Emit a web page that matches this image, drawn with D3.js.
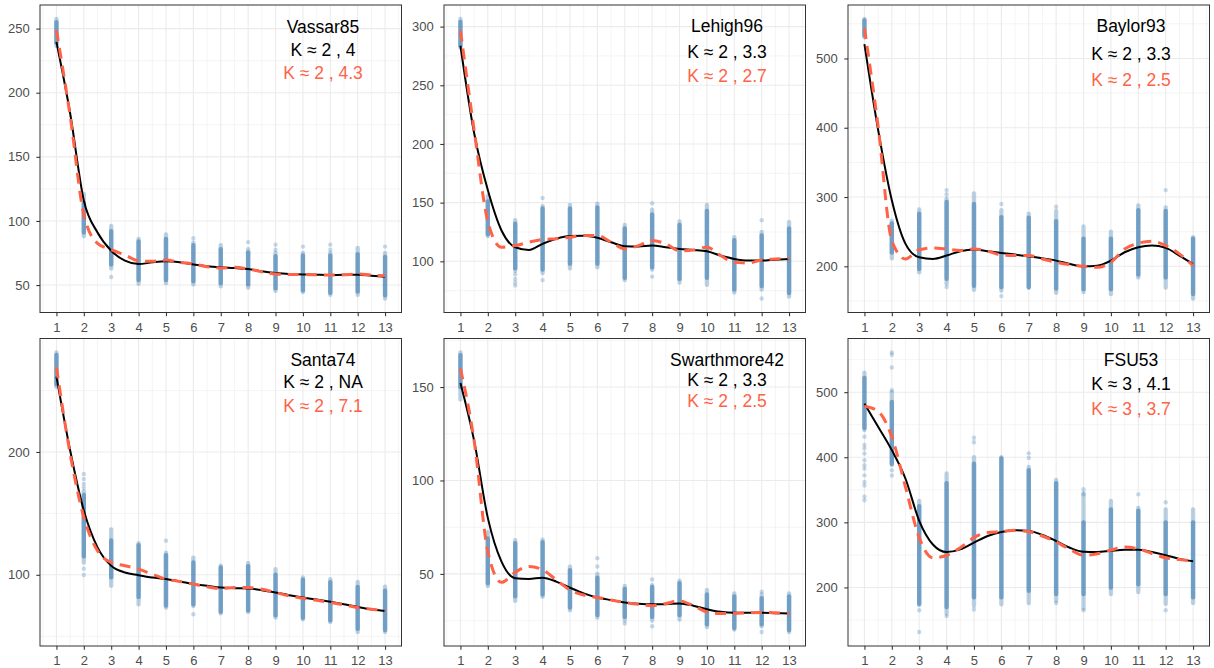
<!DOCTYPE html>
<html>
<head>
<meta charset="utf-8">
<script src="https://cdn.jsdelivr.net/npm/d3@7"></script>
<style>
  body { margin: 0; background: #fff; }
  text { font-family: "Liberation Sans", Arial, Helvetica, sans-serif; }
</style>
</head>
<body>
<svg id="chart" width="1214" height="668"></svg>
<script>
// ---- data ----
const schools = ['Vassar85', 'Lehigh96', 'Baylor93', 'Santa74', 'Swarthmore42', 'FSU53'];
const kBlack = ['K \u2248 2 , 4', 'K \u2248 2 , 3.3', 'K \u2248 2 , 3.3', 'K \u2248 2 , NA', 'K \u2248 2 , 3.3', 'K \u2248 3 , 4.1'];
const kRed = ['K \u2248 2 , 4.3', 'K \u2248 2 , 2.7', 'K \u2248 2 , 2.5', 'K \u2248 2 , 7.1', 'K \u2248 2 , 2.5', 'K \u2248 3 , 3.7'];

const xTicks = [1, 2, 3, 4, 5, 6, 7, 8, 9, 10, 11, 12, 13];
const yTicks = [
  [50, 100, 150, 200, 250],
  [100, 150, 200, 250, 300],
  [200, 300, 400, 500],
  [100, 200],
  [50, 100, 150],
  [200, 300, 400, 500]
];

// range of the observations in each column (outer), and the dense part (core)
const outerLo = [
  [236.5, 88, 63, 51, 51.5, 50.5, 49, 48, 45.5, 44.5, 42.5, 42.5, 39.5],
  [282, 121.5, 92, 90, 94, 95, 84, 93, 82, 80, 73.5, 76, 70],
  [530.5, 211.5, 191.5, 175, 166, 165, 169, 162, 163, 160, 184, 169.5, 153.5],
  [253, 110, 91, 76, 73.4, 74.5, 68.7, 69.8, 65.2, 63.8, 61.6, 53.4, 53.4],
  [143.4, 43.5, 35.6, 37.8, 30.6, 26.7, 25, 25, 25.6, 21.6, 20.2, 22, 18.9],
  [442, 388, 173, 160, 172, 174, 176, 180, 168, 190, 193, 175, 176]
];
const outerHi = [
  [257.5, 121, 96, 86, 89.5, 83, 81, 78, 75, 75, 75, 79, 75],
  [306.5, 156, 135, 147, 148, 149, 131, 144, 134, 148, 120.5, 125, 133.5],
  [557, 266, 282, 298, 305, 281, 276, 280, 257.5, 250, 288, 285, 242],
  [281, 168, 137, 125.8, 118, 114, 107.3, 109.6, 104.6, 97.8, 96.4, 94.2, 90.4],
  [168.5, 72.3, 68, 68.3, 53.9, 50, 43.5, 44, 46.4, 41.4, 39.6, 39, 39.6],
  [530, 500, 333, 375, 400, 400, 385, 365, 345, 333, 322, 320, 320]
];
const coreLo = [
  [239, 91, 66, 54, 54, 53, 51.5, 50.5, 47.5, 46, 44, 45, 42],
  [284, 123, 94, 93, 98, 98, 86, 95, 85, 86, 76, 79, 73],
  [533, 220, 196, 182, 172, 170, 170, 168, 167, 167, 188, 184, 160],
  [255, 115, 98, 82, 75, 76, 70, 71, 67, 65, 63, 56, 55],
  [150, 45, 38, 39, 32, 28, 27, 27, 28, 23, 21, 23, 20],
  [445, 390, 175, 170, 185, 185, 195, 190, 190, 200, 205, 190, 185]
];
const coreHi = [
  [255, 114, 92, 84, 86, 81, 78, 75.5, 72.5, 73, 73, 74, 72],
  [304, 151, 132, 145, 145, 146, 128, 140, 131, 143, 118, 122, 128],
  [555, 262, 276, 293, 290, 271, 270, 265, 240, 240, 281, 280, 240],
  [279, 165, 128, 124, 116, 110, 106, 107, 100, 96, 94, 90, 87],
  [167, 69, 66.5, 67, 52, 48, 42, 43, 45, 39, 38, 37, 38],
  [522, 485, 325, 360, 390, 398, 380, 360, 300, 320, 318, 300, 300]
];
// isolated observations [x, y]
const extraPoints = [
  [[3, 56.3], [6, 86.5], [8, 83.5], [9, 77.5], [9, 81.5], [10, 80], [11, 77.5], [11, 81.5], [13, 80]],
  [[3, 89], [3, 85], [3, 82], [3, 79.5], [4, 154], [4, 84], [8, 149.5], [8, 87], [12, 135], [12, 68.3]],
  [[4, 310], [4, 304], [4, 170], [6, 290], [6, 157], [8, 286], [12, 310]],
  [[2, 182], [2, 178], [2, 174], [2, 171], [2, 105], [2, 99.8], [5, 127.8], [6, 67.9]],
  [[6, 58.4], [6, 54], [7, 23.4], [8, 47], [8, 22], [12, 40.5], [12, 18.9]],
  [[1, 431.7], [1, 418.8], [1, 413.6], [1, 405.8], [1, 395.5], [1, 387.7], [1, 382.5], [1, 372.2],
   [1, 361.9], [1, 356.7], [1, 339.6], [1, 334], [2, 561], [2, 557.5], [2, 538], [2, 503], [2, 380], [2, 372],
   [3, 131.5], [3, 165], [4, 156], [5, 430], [5, 423], [5, 166], [7, 406], [7, 399], [8, 176],
   [9, 351], [9, 343], [9, 165], [11, 343], [12, 331], [12, 165]]
];

// smooth fits sampled every half step
const fitX = [1, 1.5, 2, 2.5, 3, 3.5, 4, 4.5, 5, 5.5, 6, 6.5, 7, 7.5, 8, 8.5, 9, 9.5, 10, 10.5, 11, 11.5, 12, 12.5, 13];
const blackFit = [
  [239.6, 184, 116, 91, 76.8, 69, 66.4, 67.7, 68.5, 67.7, 66, 64.6, 63.8, 63.3, 62.5, 60.7, 59.4, 58.6, 58.3, 58, 57.8, 58, 58, 57.3, 56.5],
  [283.7, 209.3, 160.7, 126.3, 112, 109.7, 114.9, 119.2, 121.5, 121.7, 120, 116.3, 112.9, 112.6, 113.4, 112, 110.6, 109.7, 108.6, 104.9, 102, 100.6, 100.6, 101.4, 102],
  [520.8, 397, 295.4, 232.4, 213, 210.6, 215.5, 221.8, 224.2, 221.8, 219.3, 216.9, 214.5, 211.6, 208.2, 203.3, 200, 200.9, 208.2, 220.3, 227.6, 230, 226.6, 215.5, 203.3],
  [261.3, 201.4, 152.3, 122.3, 107.4, 101.9, 99.7, 97.8, 96.5, 94.6, 92.4, 91, 89.6, 89.1, 88.8, 87.5, 85.6, 83.4, 81.5, 79.8, 78, 76, 73.8, 71.9, 70.6],
  [152.2, 121.3, 80, 56.6, 47.7, 47.3, 48, 45.9, 42.6, 39.6, 37.4, 36, 34.7, 34, 33.7, 33.8, 34.2, 33, 31.1, 29.7, 29.2, 29.2, 29.2, 29, 28.8],
  [482.4, 447, 411, 367, 302.4, 266, 254.3, 258.4, 268.8, 279, 285.3, 287.9, 286.9, 280.6, 271.3, 261, 254.8, 254.3, 256.3, 257.9, 257.9, 254.3, 249.6, 243.9, 240.3]
];
const redFit = [
  [248.7, 182, 105, 82.5, 77.6, 73.4, 69, 68.5, 69.5, 67.7, 66.4, 64.3, 63.3, 63.8, 62.5, 60.4, 58.6, 58.3, 58.3, 58, 57.8, 58, 58.6, 57.8, 57.3],
  [296.6, 212, 134, 112, 113.4, 116.3, 118.6, 119.2, 120.6, 122, 122, 116.3, 110.6, 113.4, 117.7, 114.9, 109, 109.7, 112, 105, 99.1, 98.6, 101.1, 102, 102.6],
  [543.6, 402, 237, 210.6, 223.7, 226.6, 225, 222.7, 225, 221.8, 216.4, 215.5, 215.5, 210.6, 205.8, 202.4, 200, 198.5, 205.8, 225, 233.4, 236.3, 230, 217.9, 201],
  [269, 198.6, 146.9, 119.6, 110, 107.4, 104.6, 100.5, 96.5, 94.6, 92.4, 90.2, 88.8, 89.6, 89.6, 88.2, 85.6, 82.8, 80.9, 79.3, 77.4, 75.5, 73.3, 71.9, 70.6],
  [159.9, 121.3, 62, 45.5, 50.9, 54, 52.2, 46.8, 41.4, 38.7, 37.4, 36, 34.7, 33.7, 33, 34.2, 35.5, 33, 29.7, 28.8, 28.8, 29.2, 29.4, 29.2, 28.8],
  [478.3, 470.5, 431.7, 354, 276.5, 245.5, 249.1, 261, 276.5, 284.3, 285.8, 287.9, 285.8, 279, 269.8, 258.4, 249.6, 251.7, 257.4, 262, 259.4, 252.2, 245.5, 243, 240.3]
];

// ---- layout ----
const panelLeft = [40, 444, 848];
const panelTop = [5, 338.5];
const panelW = 361.5;
const panelH = 307.5;
const labelDy = [[21.7, 44.3, 67.7], [21, 46.7, 71], [21, 48.3, 75], [21.5, 43.2, 67.5], [20.8, 41.5, 62.5], [21.5, 44.8, 70.5]];
const labelDx = 283;
const pointR = 2.2;
const pointColor = '#4682B4';
const gridColor = '#EBEBEB';

const svg = d3.select('#chart');

schools.forEach((school, p) => {
    const left = panelLeft[p % 3];
    const top = panelTop[Math.floor(p / 3)];

    const allY = [].concat(outerLo[p], outerHi[p], extraPoints[p].map(d => d[1]), blackFit[p], redFit[p]);
    const [yMin, yMax] = d3.extent(allY);
    const pad = (yMax - yMin) * 0.05;

    const x = d3.scaleLinear().domain([0.4, 13.6]).range([left, left + panelW]);
    const y = d3.scaleLinear().domain([yMin - pad, yMax + pad]).range([top + panelH, top]);

    const g = svg.append('g');

    // background grid
    const step = yTicks[p][1] - yTicks[p][0];
    const yMinor = [yTicks[p][0] - step / 2].concat(yTicks[p].map(t => t + step / 2))
        .filter(v => v > y.domain()[0] && v < y.domain()[1]);
    const xMinor = xTicks.map(t => t - 0.5).concat([13.5]);

    g.selectAll('.xminor').data(xMinor).join('line')
        .attr('x1', d => x(d)).attr('x2', d => x(d))
        .attr('y1', top).attr('y2', top + panelH)
        .attr('stroke', gridColor).attr('stroke-width', 0.55);
    g.selectAll('.yminor').data(yMinor).join('line')
        .attr('y1', d => y(d)).attr('y2', d => y(d))
        .attr('x1', left).attr('x2', left + panelW)
        .attr('stroke', gridColor).attr('stroke-width', 0.55);
    g.append('g').selectAll('line').data(xTicks).join('line')
        .attr('x1', d => x(d)).attr('x2', d => x(d))
        .attr('y1', top).attr('y2', top + panelH)
        .attr('stroke', gridColor).attr('stroke-width', 1.1);
    g.append('g').selectAll('line').data(yTicks[p]).join('line')
        .attr('y1', d => y(d)).attr('y2', d => y(d))
        .attr('x1', left).attr('x2', left + panelW)
        .attr('stroke', gridColor).attr('stroke-width', 1.1);

    // observations: full spread, dense part, isolated points
    g.append('g').selectAll('line').data(xTicks).join('line')
        .attr('x1', d => x(d)).attr('x2', d => x(d))
        .attr('y1', (d, i) => y(outerLo[p][i])).attr('y2', (d, i) => y(outerHi[p][i]))
        .attr('stroke', pointColor).attr('stroke-width', pointR * 2)
        .attr('stroke-linecap', 'round').attr('opacity', 0.35);
    g.append('g').selectAll('line').data(xTicks).join('line')
        .attr('x1', d => x(d)).attr('x2', d => x(d))
        .attr('y1', (d, i) => y(coreLo[p][i])).attr('y2', (d, i) => y(coreHi[p][i]))
        .attr('stroke', pointColor).attr('stroke-width', pointR * 2)
        .attr('stroke-linecap', 'round').attr('opacity', 0.62);
    g.append('g').selectAll('circle').data(extraPoints[p]).join('circle')
        .attr('cx', d => x(d[0])).attr('cy', d => y(d[1]))
        .attr('r', pointR)
        .attr('fill', pointColor).attr('opacity', 0.3);

    // smooth fits
    const line = d3.line().x(d => x(d[0])).y(d => y(d[1])).curve(d3.curveMonotoneX);
    g.append('path')
        .attr('d', line(fitX.map((v, i) => [v, blackFit[p][i]])))
        .attr('fill', 'none').attr('stroke', '#000').attr('stroke-width', 2);
    g.append('path')
        .attr('d', line(fitX.map((v, i) => [v, redFit[p][i]])))
        .attr('fill', 'none').attr('stroke', 'tomato').attr('stroke-width', 3)
        .attr('stroke-dasharray', '11,7');

    // panel border
    g.append('rect')
        .attr('x', left).attr('y', top)
        .attr('width', panelW).attr('height', panelH)
        .attr('fill', 'none').attr('stroke', '#333').attr('stroke-width', 1);

    // axes
    const xAxis = g.append('g')
        .attr('transform', `translate(0, ${top + panelH})`)
        .call(d3.axisBottom(x).tickValues(xTicks).tickSize(3.7).tickPadding(6.5));
    const yAxis = g.append('g')
        .attr('transform', `translate(${left}, 0)`)
        .call(d3.axisLeft(y).tickValues(yTicks[p]).tickSize(3.7).tickPadding(6.5));
    [xAxis, yAxis].forEach(a => {
        a.select('.domain').remove();
        a.selectAll('line').attr('stroke', '#333').attr('stroke-width', 1.07);
        a.selectAll('text').attr('fill', '#4D4D4D').style('font-size', '13px')
            .style('font-family', '"Liberation Sans", Arial, sans-serif');
    });

    // annotation
    const labels = [[school, '#000'], [kBlack[p], '#000'], [kRed[p], 'tomato']];
    g.append('g').selectAll('text').data(labels).join('text')
        .attr('x', left + labelDx)
        .attr('y', (d, i) => top + labelDy[p][i])
        .attr('dy', '0.36em')
        .attr('text-anchor', 'middle')
        .attr('fill', d => d[1])
        .style('font-size', '17.5px')
        .text(d => d[0]);
});
</script>
</body>
</html>
